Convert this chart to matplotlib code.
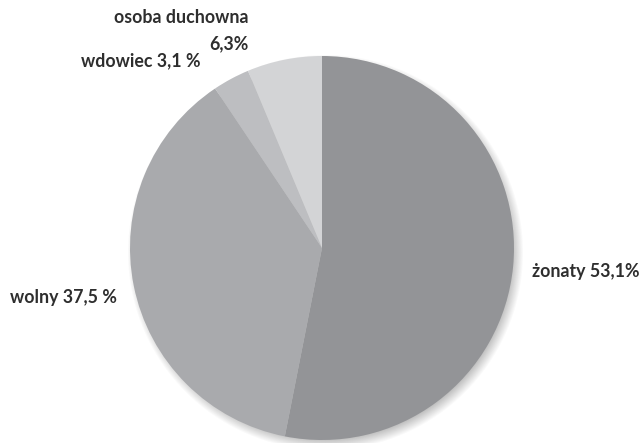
import numpy as np
import matplotlib
matplotlib.use("Agg")
import matplotlib.pyplot as plt

labels = ["żonaty 53,1%", "wolny 37,5 %", "wdowiec 3,1 %", "osoba duchowna\n6,3%"]
values = [53.1, 37.5, 3.1, 6.3]
colors = ["#939497", "#a9aaad", "#bdbec1", "#d3d4d6"]

W, H = 640, 443
fig = plt.figure(figsize=(6.4, 4.43), dpi=100)
ax = fig.add_axes([0, 0, 1, 1])
ax.set_xlim(0, W)
ax.set_ylim(0, H)
ax.set_aspect("equal")
ax.axis("off")

cx, cy, r = 322, H - 248, 192

# soft shadow
yy, xx = np.mgrid[0:H, 0:W]
d = np.sqrt((xx - (cx + 3)) ** 2 + ((H - yy) - (cy - 4)) ** 2)
alpha = np.clip((r + 6 - d) / 12, 0, 1) * 0.4
img = np.zeros((H, W, 4))
img[..., 0:3] = 0.35
img[..., 3] = alpha
ax.imshow(img, extent=(0, W, 0, H), origin="upper", zorder=0)

ax.pie(values, colors=colors, startangle=90, counterclock=False,
       center=(cx, cy), radius=r, frame=True,
       wedgeprops=dict(linewidth=0))
ax.set_xlim(0, W)
ax.set_ylim(0, H)
ax.axis("off")

font = dict(family="Lato", fontweight="bold", fontsize=12.8, color="#2e2e2e")
ax.text(639, H - 272, labels[0], ha="right", va="center", **font)
ax.text(10, H - 298, labels[1], ha="left", va="center", **font)
ax.text(81, H - 61, labels[2], ha="left", va="center", **font)
ax.text(248, H - 31, labels[3], ha="right", va="center", multialignment="right",
        linespacing=1.65, **font)

fig.savefig("out.png", dpi=100)
